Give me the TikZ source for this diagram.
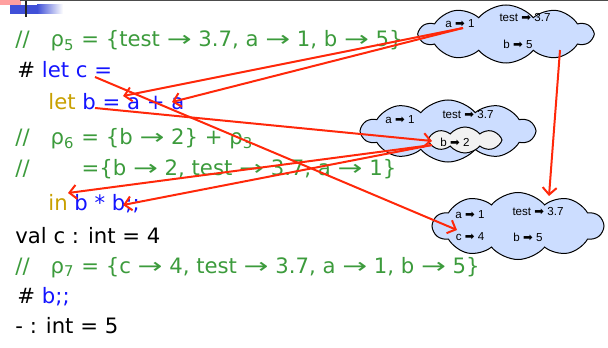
\documentclass[tikz,border=0pt]{standalone}
\usepackage{fontspec}
\setmainfont{DejaVu Sans}
\newfontfamily\cloudfont{Liberation Sans}
\newfontfamily\symfont{DejaVu Sans}
\usetikzlibrary{shapes.symbols,arrows.meta}
\definecolor{cmt}{RGB}{60,155,60}
\definecolor{kw}{RGB}{200,160,0}
\definecolor{code}{RGB}{20,20,255}
\definecolor{envfill}{RGB}{204,221,255}
\definecolor{innerfill}{RGB}{242,242,242}
\definecolor{ptr}{RGB}{255,40,10}
\definecolor{slideblue}{RGB}{64,80,216}
\definecolor{slidepink}{RGB}{255,160,160}
\newcommand{\bindto}{{\symfont\char"27A1}}
\newcommand{\maps}{\scalebox{1.4}[1]{→}}
\begin{document}
\begin{tikzpicture}[x=0.5pt,y=-0.5pt,
	codeline/.style={anchor=base west,inner sep=0pt,font=\fontsize{10.6}{12}\selectfont},
	envcloud/.style={cloud,cloud puffs=10,cloud puff arc=100,cloud ignores aspect,draw=black,line width=0.5pt,fill=envfill,inner sep=0pt},
	binding/.style={inner sep=0pt,font=\cloudfont\fontsize{5.8}{7}\selectfont},
	pointer/.style={draw=ptr,line width=1pt,-{Straight Barb[length=3.5pt,width=7pt]}}]
	\useasboundingbox (0,0) rectangle (608,347);
	% slide decoration
	\fill[slidepink] (0,0) rectangle (21,5);
	\fill[slideblue] (10,5) rectangle (37,14);
	\shade[left color=slideblue,right color=white] (37,5) rectangle (63,14);
	\fill[black!85] (25,0) rectangle (27,17);
	\draw[black!70,line width=0.5pt] (20,0.5) -- (608,0.5);
	% code
	\node[codeline,cmt] (l1) at (15,47) {//\hspace{10.5pt}ρ\textsubscript{5} = \{test \maps\ 3.7, a \maps\ 1, b \maps\ 5\}};
	\node[codeline] (l2) at (17,78) {\# \textcolor{code}{let c =}};
	\node[codeline] (l3) at (48,110) {\textcolor{kw}{let} \textcolor{code}{b = a + a}};
	\node[codeline,cmt] (l4) at (15,145) {//\hspace{10.5pt}ρ\textsubscript{6} = \{b \maps\ 2\} + ρ\textsubscript{3}};
	\node[codeline,cmt] (l5) at (15,175) {//\hspace{26pt}=\{b \maps\ 2, test \maps\ 3.7, a \maps\ 1\}};
	\node[codeline] (l6) at (48,210) {\textcolor{kw}{in} \textcolor{code}{b * b;;}};
	\node[codeline] (l7) at (15,243) {val c : int = 4};
	\node[codeline,cmt] (l8) at (15,273) {//\hspace{10.5pt}ρ\textsubscript{7} = \{c \maps\ 4, test \maps\ 3.7, a \maps\ 1, b \maps\ 5\}};
	\node[codeline] (l9) at (17,303) {\# \textcolor{code}{b;;}};
	\node[codeline] (l10) at (15,333) {- : int = 5};
	% environments
	\node[envcloud,minimum width=86.5pt,minimum height=29pt] (env1) at (506,34) {};
	\node[envcloud,minimum width=86.5pt,minimum height=31pt] (env2) at (448,131) {};
	\node[envcloud,cloud puffs=8,fill=innerfill,minimum width=37pt,minimum height=13pt] (env2b) at (465,140) {};
	\node[envcloud,minimum width=85pt,minimum height=33.5pt] (env3) at (518,226) {};
	\node[binding] (e1a) at (460,24) {a \bindto\ 1};
	\node[binding] (e1t) at (525,18) {test \bindto\ 3.7};
	\node[binding] (e1b) at (518,44) {b \bindto\ 5};
	\node[binding] (e2a) at (400,120) {a \bindto\ 1};
	\node[binding] (e2t) at (468,115) {test \bindto\ 3.7};
	\node[binding] (e2b) at (455,142) {b \bindto\ 2};
	\node[binding] (e3a) at (470,215) {a \bindto\ 1};
	\node[binding] (e3t) at (538,212) {test \bindto\ 3.7};
	\node[binding] (e3c) at (470,237) {c \bindto\ 4};
	\node[binding] (e3b) at (528,237) {b \bindto\ 5};
	% pointer ends
	\coordinate (fromA) at (463,28);
	\coordinate (useA1) at (123,96);
	\coordinate (useA2) at (172,102);
	\coordinate (defC) at (95,77);
	\coordinate (toC) at (457,230);
	\coordinate (defB) at (95,108);
	\coordinate (toB) at (432,141);
	\coordinate (fromB) at (432,145);
	\coordinate (useB1) at (68,193);
	\coordinate (useB2) at (123,205);
	\coordinate (fromEnv1) at (560,50);
	\coordinate (toEnv3) at (549,196);
	\draw[pointer] (fromA) -- (useA1);
	\draw[pointer] (fromA) -- (useA2);
	\draw[pointer] (defC) -- (toC);
	\draw[pointer] (defB) -- (toB);
	\draw[pointer] (fromB) -- (useB1);
	\draw[pointer] (fromB) -- (useB2);
	\draw[pointer] (fromEnv1) -- (toEnv3);
\end{tikzpicture}
\end{document}
